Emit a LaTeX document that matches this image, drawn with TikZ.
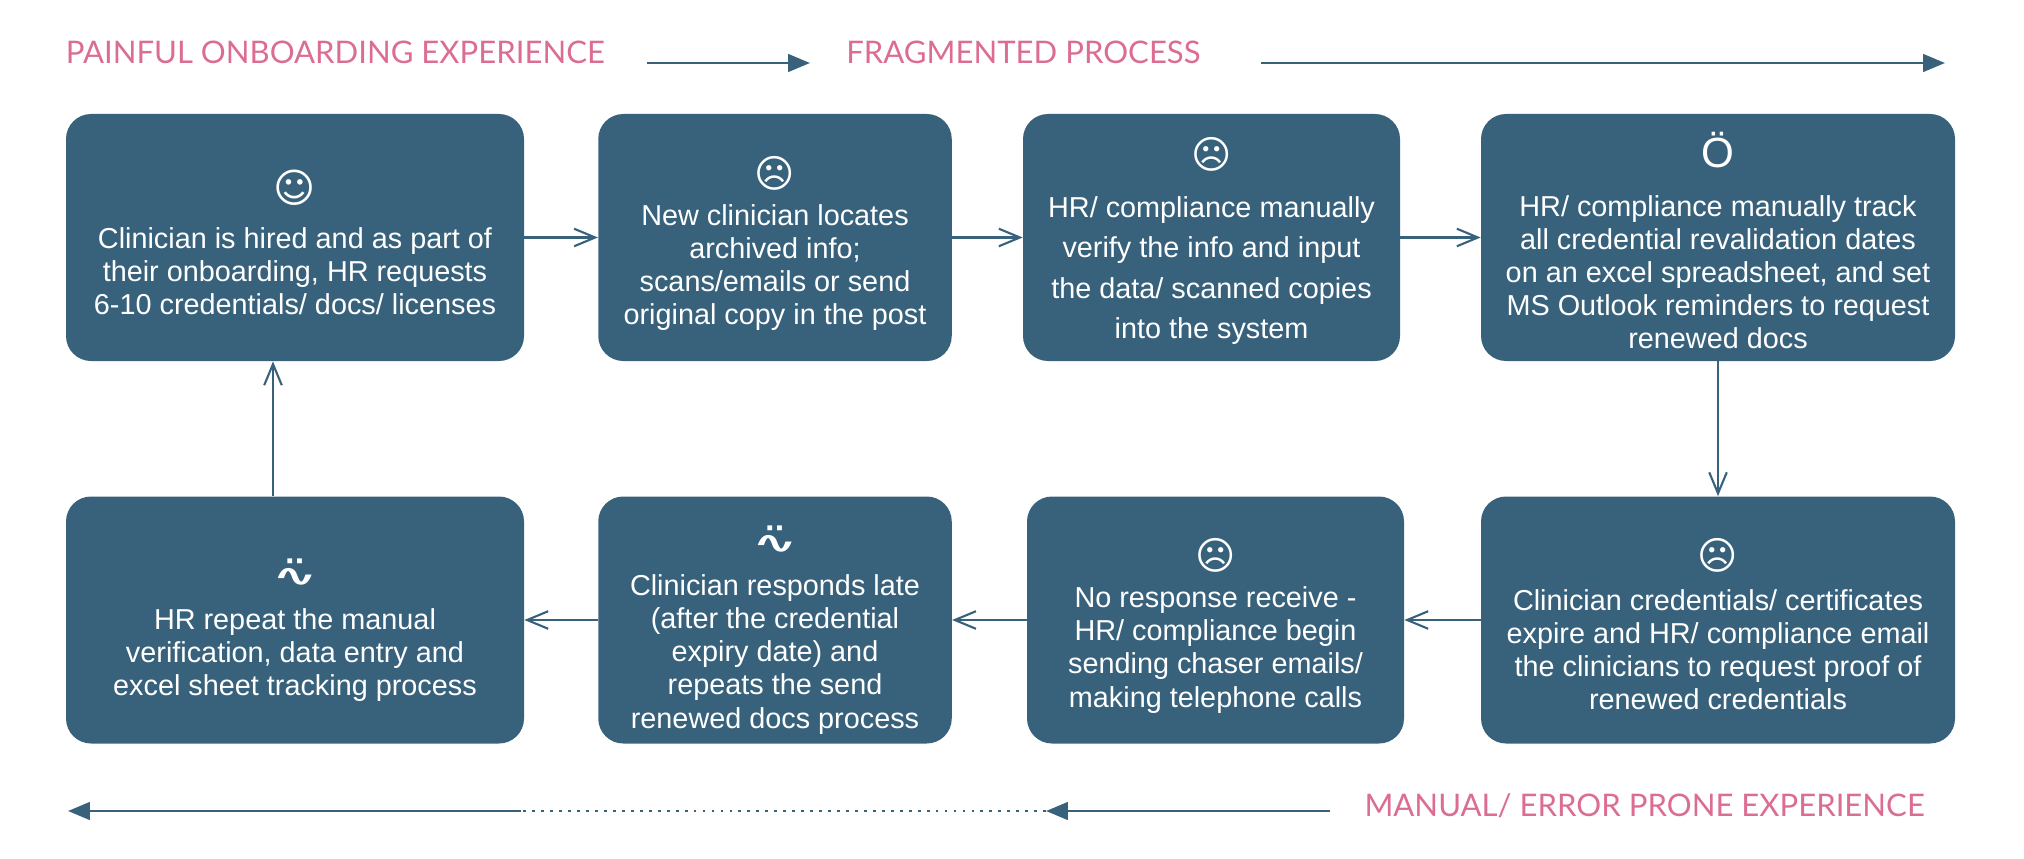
\documentclass[tikz,border=0pt]{standalone}
\usepackage{fontspec}
\setmainfont{Liberation Sans}
\newfontfamily\moodfont{DejaVu Sans}
\newfontfamily\headfont{Lato}
\usetikzlibrary{arrows.meta, positioning}
\definecolor{boxblue}{HTML}{38627C}
\definecolor{headpink}{HTML}{DC6D92}
\newcommand{\happy}{{\moodfont\bfseries\fontsize{23}{23}\selectfont ☺}}
\newcommand{\unhappy}{{\moodfont\bfseries\fontsize{22}{22}\selectfont ☹}}
\newcommand{\shocked}{{\fontsize{24}{24}\selectfont Ö}}
\newcommand{\wavy}{\shortstack{{\bfseries\fontsize{26}{6}\selectfont ¨}\\[-15.6pt]\scalebox{1.4}[0.8]{\moodfont\bfseries\fontsize{22}{22}\selectfont ∿}}}

\begin{document}
\begin{tikzpicture}[
    stepbox/.style={fill=boxblue, rounded corners=0.5cm, minimum height=4.94cm, inner sep=0pt},
    steptext/.style={text=white, align=center, inner sep=0pt,
                     font=\fontsize{16.4}{18.8}\selectfont},
    mood/.style={text=white, inner sep=0pt},
    head/.style={text=headpink, inner sep=0pt, font=\headfont\fontsize{17.7}{20}\selectfont},
    arr/.style={-{Straight Barb[length=12pt, width=10pt]}, boxblue, line width=1.2pt},
    band/.style={-{Triangle[length=12.5pt, width=10pt]}, boxblue, line width=1.6pt}
]
\useasboundingbox (0,0) rectangle (40.48,17.16);

% Top row
\node[stepbox, minimum width=9.16cm] (hired) at (5.90,12.41) {};
\node[mood] (hiredface) at ([yshift=1.00cm]hired.center) {\happy};
\node[steptext] (hiredtext) at ([yshift=-0.68cm]hired.center)
    {Clinician is hired and as part of\\ their onboarding, HR requests\\ 6-10 credentials/ docs/ licenses};

\node[stepbox, minimum width=7.07cm] (locate) at (15.50,12.41) {};
\node[mood] (locateface) at ([yshift=1.29cm]locate.center) {\unhappy};
\node[steptext] (locatetext) at ([yshift=-0.60cm]locate.center)
    {New clinician locates\\ archived info;\\ scans/emails or send\\ original copy in the post};

\node[stepbox, minimum width=7.54cm] (verify) at (24.23,12.41) {};
\node[mood] (verifyface) at ([yshift=1.67cm]verify.center) {\unhappy};
\node[steptext, font=\fontsize{16.4}{23}\selectfont] (verifytext) at ([yshift=-0.66cm]verify.center)
    {HR/ compliance manually\\ verify the info and input\\ the data/ scanned copies\\ into the system};

\node[stepbox, minimum width=9.48cm] (track) at (34.36,12.41) {};
\node[mood] (trackface) at ([yshift=1.74cm]track.center) {\shocked};
\node[steptext] (tracktext) at ([yshift=-0.69cm]track.center)
    {HR/ compliance manually track\\ all credential revalidation dates\\ on an excel spreadsheet, and set\\ MS Outlook reminders to request\\ renewed docs};

% Bottom row
\node[stepbox, minimum width=9.48cm] (expire) at (34.36,4.76) {};
\node[mood] (expireface) at ([yshift=1.30cm]expire.center) {\unhappy};
\node[steptext] (expiretext) at ([yshift=-0.60cm]expire.center)
    {Clinician credentials/ certificates\\ expire and HR/ compliance email\\ the clinicians to request proof of\\ renewed credentials};

\node[stepbox, minimum width=7.54cm] (chase) at (24.31,4.76) {};
\node[mood] (chaseface) at ([yshift=1.30cm]chase.center) {\unhappy};
\node[steptext] (chasetext) at ([yshift=-0.60cm]chase.center)
    {No response receive -\\ HR/ compliance begin\\ sending chaser emails/\\ making telephone calls};

\node[stepbox, minimum width=7.07cm] (late) at (15.50,4.76) {};
\node[mood] (lateface) at ([yshift=1.60cm]late.center) {\wavy};
\node[steptext] (latetext) at ([yshift=-0.69cm]late.center)
    {Clinician responds late\\ (after the credential\\ expiry date) and\\ repeats the send\\ renewed docs process};

\node[stepbox, minimum width=9.16cm] (repeat) at (5.90,4.76) {};
\node[mood] (repeatface) at ([yshift=0.94cm]repeat.center) {\wavy};
\node[steptext] (repeattext) at ([yshift=-0.70cm]repeat.center)
    {HR repeat the manual\\ verification, data entry and\\ excel sheet tracking process};

% Flow arrows
\draw[arr] (hired) -- (locate);
\draw[arr] (locate) -- (verify);
\draw[arr] (verify) -- (track);
\draw[arr] (track) -- (expire);
\draw[arr] (expire) -- (chase);
\draw[arr] (chase) -- (late);
\draw[arr] (late) -- (repeat);
\draw[arr] ([xshift=-0.44cm]repeat.north) -- ([xshift=-0.44cm]hired.south);

% Headings
\node[head, anchor=base west] (painful) at (1.31,15.88) {PAINFUL ONBOARDING EXPERIENCE};
\node[head, anchor=base west] (fragment) at (16.92,15.88) {FRAGMENTED PROCESS};
\node[head, anchor=base east] (manual) at (38.50,0.84) {MANUAL/ ERROR PRONE EXPERIENCE};

% Heading arrows
\coordinate (t1) at (12.94,15.90);
\coordinate (t2) at (16.20,15.90);
\coordinate (t3) at (25.22,15.90);
\coordinate (t4) at (38.90,15.90);
\draw[band] (t1) -- (t2);
\draw[band] (t3) -- (t4);

\coordinate (b1) at (26.60,0.94);
\coordinate (b2) at (20.92,0.94);
\coordinate (b3) at (10.42,0.94);
\coordinate (b4) at (1.36,0.94);
\draw[band] (b1) -- (b2);
\draw[boxblue, line width=1.6pt, dash pattern=on 1.6pt off 3.5pt] (b2) -- (b3);
\draw[band] (b3) -- (b4);

\end{tikzpicture}
\end{document}
